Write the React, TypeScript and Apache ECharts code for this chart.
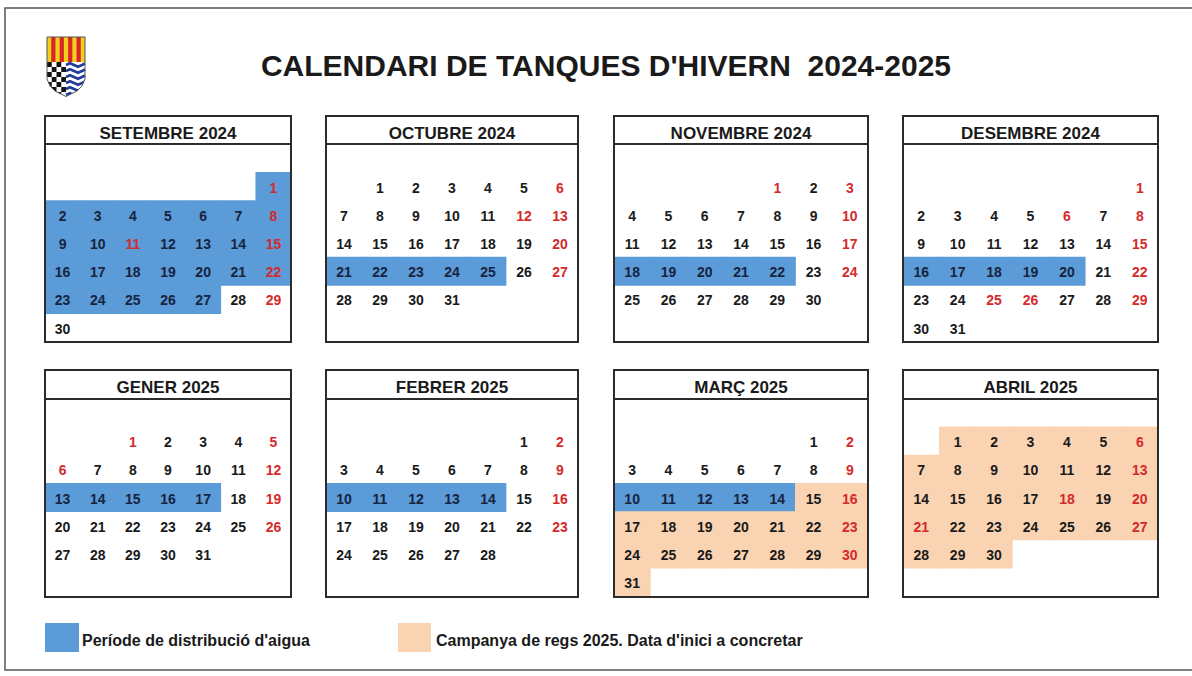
import React, { useEffect, useRef } from "react";
import * as echarts from "echarts";

// ---------- data ----------
const TITLE = "CALENDARI DE TANQUES D'HIVERN\u00a0\u00a02024-2025";
const MONTHS = ["2024-09", "2024-10", "2024-11", "2024-12", "2025-01", "2025-02", "2025-03", "2025-04"];
const MONTH_TITLES = [
  "SETEMBRE 2024", "OCTUBRE 2024", "NOVEMBRE 2024", "DESEMBRE 2024",
  "GENER 2025", "FEBRER 2025", "MARÇ 2025", "ABRIL 2025",
];
// Període de distribució d'aigua (blue)
const BLUE_RANGES = [
  ["2024-09-01", "2024-09-27"],
  ["2024-10-21", "2024-10-25"],
  ["2024-11-18", "2024-11-22"],
  ["2024-12-16", "2024-12-20"],
  ["2025-01-13", "2025-01-17"],
  ["2025-02-10", "2025-02-14"],
  ["2025-03-10", "2025-03-14"],
];
// Campanya de regs 2025 (orange)
const ORANGE_RANGES = [["2025-03-15", "2025-04-30"]];
// holidays shown in red (besides Sundays)
const HOLIDAYS = [
  "2024-09-11", "2024-10-12", "2024-11-01", "2024-12-06", "2024-12-08",
  "2024-12-25", "2024-12-26", "2025-01-01", "2025-01-06", "2025-04-18", "2025-04-21",
];
const LEGEND_LABELS = ["Període de distribució d'aigua", "Campanya de regs 2025. Data d'inici a concretar"];

// ---------- style / layout ----------
const BLUE = "#5b9bd8";
const ORANGE = "#fad4b2";
const RED = "#d42a2a";
const BLACK = "#1a1a1a";
const NAVY = "#172440";
const FONT = '"Liberation Sans", Arial, Helvetica, sans-serif';
const BOX_X = [45, 326, 614, 903];
const BOX_W = [246, 252, 254, 255];
const BOX_TOP = [116, 370];
const HEADER_H = [28, 29];
const GRID_TOP = [172.5, 427];
const BOX_BOTTOM = [342, 597];
const CELL_H = 28.2;

function inRanges(d: string, ranges: string[][]) {
  return ranges.some((r) => d >= r[0] && d <= r[1]);
}

function monthData(ym: string) {
  const [y, m] = ym.split("-").map(Number);
  const n = new Date(Date.UTC(y, m, 0)).getUTCDate();
  const out: any[] = [];
  for (let d = 1; d <= n; d++) {
    const ds = `${ym}-${String(d).padStart(2, "0")}`;
    const sunday = new Date(Date.UTC(y, m - 1, d)).getUTCDay() === 0;
    const kind = inRanges(ds, BLUE_RANGES) ? 1 : inRanges(ds, ORANGE_RANGES) ? 2 : 0;
    const red = sunday || HOLIDAYS.includes(ds) ? 1 : 0;
    out.push([ds, d, kind, red]);
  }
  return out;
}

export default function App() {
  const ref = useRef<HTMLDivElement>(null);
  useEffect(() => {
    if (!ref.current) return;
    const chart = echarts.init(ref.current, null as any, { renderer: "svg" });

    const calendars = MONTHS.map((ym, i) => {
      const row = Math.floor(i / 4);
      const col = i % 4;
      return {
        orient: "vertical",
        range: ym,
        left: BOX_X[col],
        top: GRID_TOP[row],
        cellSize: [BOX_W[col] / 7, CELL_H],
        dayLabel: { show: false, firstDay: 1 },
        monthLabel: { show: false },
        yearLabel: { show: false },
        splitLine: { show: false },
        itemStyle: { color: "rgba(0,0,0,0)", borderWidth: 0 },
      };
    });

    const series = MONTHS.map((ym, i) => ({
      type: "custom",
      coordinateSystem: "calendar",
      calendarIndex: i,
      data: monthData(ym),
      renderItem: (params: any, api: any) => {
        const pt = api.coord([api.value(0)]);
        const w = params.coordSys.cellWidth;
        const h = params.coordSys.cellHeight;
        const kind = api.value(2);
        const red = api.value(3);
        const children: any[] = [];
        if (kind) {
          children.push({
            type: "rect",
            shape: { x: pt[0] - w / 2 - 0.4, y: pt[1] - h / 2 - 0.4, width: w + 0.8, height: h + 0.8 },
            style: { fill: kind === 1 ? BLUE : ORANGE },
            z2: 1,
          });
        }
        children.push({
          type: "text",
          z2: 10,
          style: {
            text: String(api.value(1)),
            x: pt[0],
            y: pt[1] + 1,
            fill: red ? RED : kind === 1 ? NAVY : BLACK,
            font: `bold 14px ${FONT}`,
            align: "center",
            verticalAlign: "middle",
          },
        });
        return { type: "group", children };
      },
    }));

    const graphics: any[] = [];
    // page frame
    graphics.push({
      type: "rect", z: 1,
      shape: { x: 5, y: 8, width: 1200, height: 662 },
      style: { fill: "none", stroke: "#555", lineWidth: 1.5 },
    });
    // title
    graphics.push({
      type: "text", z: 100,
      style: {
        text: TITLE, x: 606, y: 65, fill: BLACK, font: `bold 30px ${FONT}`,
        align: "center", verticalAlign: "middle",
      },
    });
    // month boxes
    MONTHS.forEach((_, i) => {
      const row = Math.floor(i / 4);
      const col = i % 4;
      const x = BOX_X[col], w = BOX_W[col];
      const top = BOX_TOP[row], bottom = BOX_BOTTOM[row];
      graphics.push({
        type: "rect", z: 100,
        shape: { x, y: top, width: w, height: bottom - top },
        style: { fill: "none", stroke: "#2b2b2b", lineWidth: 2 },
      });
      graphics.push({
        type: "line", z: 100,
        shape: { x1: x, y1: top + HEADER_H[row], x2: x + w, y2: top + HEADER_H[row] },
        style: { stroke: "#2b2b2b", lineWidth: 2 },
      });
      graphics.push({
        type: "text", z: 100,
        style: {
          text: MONTH_TITLES[i], x: x + w / 2, y: top + 17,
          fill: BLACK, font: `bold 17px ${FONT}`, align: "center", verticalAlign: "middle",
        },
      });
    });
    // legend
    graphics.push({ type: "rect", z: 100, shape: { x: 45, y: 623, width: 34, height: 29 }, style: { fill: BLUE } });
    graphics.push({
      type: "text", z: 100,
      style: { text: LEGEND_LABELS[0], x: 82, y: 640, fill: BLACK, font: `bold 16px ${FONT}`, verticalAlign: "middle" },
    });
    graphics.push({ type: "rect", z: 100, shape: { x: 398, y: 623, width: 33, height: 29 }, style: { fill: ORANGE } });
    graphics.push({
      type: "text", z: 100,
      style: { text: LEGEND_LABELS[1], x: 436, y: 640, fill: BLACK, font: `bold 16px ${FONT}`, verticalAlign: "middle" },
    });

    // logo (shield)
    const L = 47, R = 85, T = 37, MID = 62;
    graphics.push({ type: "rect", z: 50, shape: { x: L, y: T, width: R - L, height: MID - T }, style: { fill: "#f2cf1a" } });
    const sw = (R - L) / 9;
    for (let k = 0; k < 4; k++) {
      graphics.push({
        type: "rect", z: 51,
        shape: { x: L + (1 + 2 * k) * sw, y: T, width: sw, height: MID - T },
        style: { fill: "#d9262b" },
      });
    }
    graphics.push({ type: "rect", z: 50, shape: { x: L, y: MID, width: R - L, height: 36 }, style: { fill: "#fff" } });
    const cw = (66 - L) / 4, chh = 5;
    for (let r = 0; r < 7; r++) {
      for (let c = 0; c < 4; c++) {
        if ((r + c) % 2 === 0) {
          graphics.push({
            type: "rect", z: 51,
            shape: { x: L + c * cw, y: MID + r * chh, width: cw, height: chh },
            style: { fill: "#151515" },
          });
        }
      }
    }
    for (let r = 0; r < 6; r++) {
      const yy = MID + 3 + r * 6;
      graphics.push({
        type: "polyline", z: 51,
        shape: { points: [[66, yy], [70, yy - 1.8], [74, yy], [78, yy + 1.8], [82, yy], [85, yy - 1.5]] },
        style: { stroke: "#223c9c", lineWidth: 2.6, fill: "none" },
      });
    }
    graphics.push({
      type: "polygon", z: 60,
      shape: { points: [[44, 79], [47, 79], [50, 86], [55, 91], [61, 94], [66, 96.5], [66, 102], [44, 102]] },
      style: { fill: "#fff" },
    });
    graphics.push({
      type: "polygon", z: 60,
      shape: { points: [[88, 79], [85, 79], [82, 86], [77, 91], [71, 94], [66, 96.5], [66, 102], [88, 102]] },
      style: { fill: "#fff" },
    });
    graphics.push({
      type: "polygon", z: 61,
      shape: {
        points: [[L, T], [R, T], [R, 79], [82, 86], [77, 91], [71, 94], [66, 96.5], [61, 94], [55, 91], [50, 86], [L, 79]],
      },
      style: { fill: "none", stroke: "#555", lineWidth: 1 },
    });

    chart.setOption({
      animation: false,
      backgroundColor: "#ffffff",
      calendar: calendars,
      series,
      graphic: { elements: graphics },
    } as any);
    return () => chart.dispose();
  }, []);
  return (
    <div
      ref={ref}
      style={{ position: "fixed", left: 0, top: 0, width: 1192, height: 676 }}
    />
  );
}
